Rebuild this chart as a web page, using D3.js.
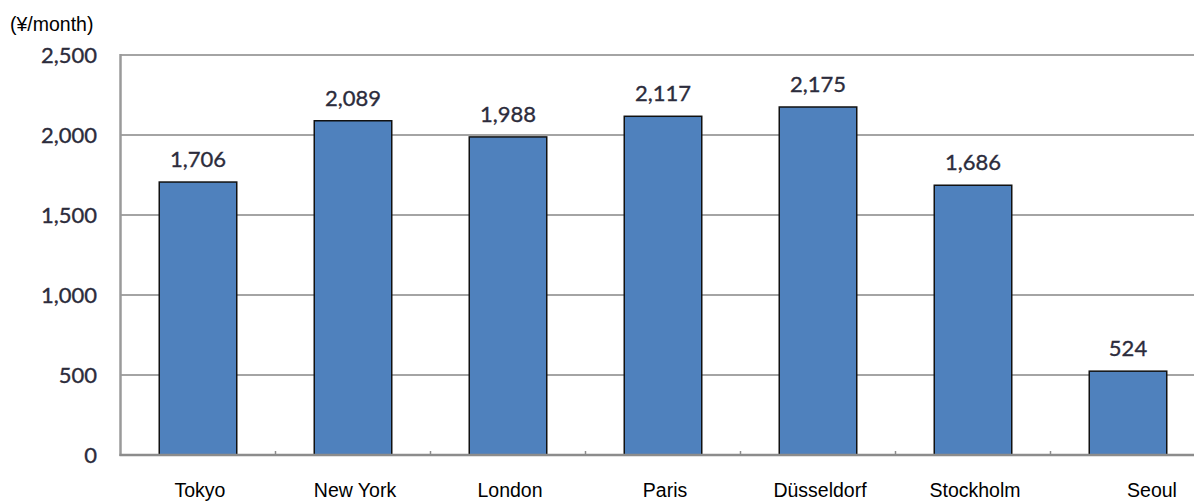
<!DOCTYPE html>
<html><head><meta charset="utf-8">
<script src="https://cdn.jsdelivr.net/npm/d3@7"></script>
<style>html,body{margin:0;padding:0;background:#fff;}svg{display:block;}</style>
</head><body>
<svg id="chart" width="1194" height="501"></svg>
<script>
const categories = ["Tokyo","New York","London","Paris","Düsseldorf","Stockholm","Seoul"];
const values = [1706, 2089, 1988, 2117, 2175, 1686, 524];
const yTicks = [0, 500, 1000, 1500, 2000, 2500];
const unitLabel = "(¥/month)";

(function () {
const svg = d3.select("#chart");
const pLeft = 120.5, pRight = 1205.5, pTop = 55, pBottom = 455;

const x = d3.scaleBand().domain(categories).range([pLeft, pRight]).paddingInner(0.5).paddingOuter(0.25);
const y = d3.scaleLinear().domain([0, 2500]).range([pBottom, pTop]);
const fmt = d3.format(",");

// gridlines
svg.append("g").selectAll("line").data(yTicks.filter(d => d > 0)).join("line")
  .attr("x1", pLeft).attr("x2", pRight)
  .attr("y1", d => y(d)).attr("y2", d => y(d))
  .attr("stroke", "#a4a4a4").attr("stroke-width", 2);

// left frame
svg.append("line").attr("x1", pLeft).attr("x2", pLeft).attr("y1", pTop - 1).attr("y2", pBottom + 1)
  .attr("stroke", "#9a9a9a").attr("stroke-width", 2.5);

// bars
svg.append("g").selectAll("rect").data(values).join("rect")
  .attr("x", (d, i) => x(categories[i]))
  .attr("width", x.bandwidth())
  .attr("y", d => y(d))
  .attr("height", d => y(0) - y(d))
  .attr("fill", "#4f81bd").attr("stroke", "#111").attr("stroke-width", 1.5);

// bottom axis
svg.append("line").attr("x1", pLeft - 1).attr("x2", pRight).attr("y1", pBottom).attr("y2", pBottom)
  .attr("stroke", "#8c8c8c").attr("stroke-width", 2.5);

// category boundary ticks
const step = x.step();
svg.append("g").selectAll("line").data(d3.range(1, categories.length)).join("line")
  .attr("x1", k => pLeft + k * step).attr("x2", k => pLeft + k * step)
  .attr("y1", pBottom).attr("y2", pBottom - 4)
  .attr("stroke", "#8c8c8c").attr("stroke-width", 1.5);

// value labels
svg.append("g").selectAll("text").data(values).join("text")
  .attr("x", (d, i) => x(categories[i]) + x.bandwidth() / 2)
  .attr("y", d => y(d) - 15)
  .attr("text-anchor", "middle")
  .attr("font-family", "Lato, 'Open Sans', sans-serif").attr("font-size", 22)
  .attr("fill", "#2c2c3c").attr("stroke", "#2c2c3c").attr("stroke-width", 0.35)
  .text(d => fmt(d));

// y tick labels
svg.append("g").selectAll("text").data(yTicks).join("text")
  .attr("x", 97).attr("y", d => y(d)).attr("dy", "0.36em")
  .attr("text-anchor", "end")
  .attr("font-family", "Lato, 'Open Sans', sans-serif").attr("font-size", 22)
  .attr("fill", "#2c2c3c").attr("stroke", "#2c2c3c").attr("stroke-width", 0.35)
  .text(d => fmt(d));

// x labels
svg.append("g").selectAll("text").data(categories).join("text")
  .attr("x", (d, i) => x(d) + x.bandwidth() / 2 + (i === categories.length - 1 ? 24 : 2))
  .attr("y", 497)
  .attr("text-anchor", "middle")
  .attr("font-family", "'Liberation Sans', Arial, sans-serif").attr("font-size", 19.5)
  .attr("fill", "#000")
  .text(d => d);

// unit label
svg.append("text").attr("x", 10).attr("y", 31)
  .attr("font-family", "'Liberation Sans', Arial, sans-serif").attr("font-size", 19.5)
  .attr("fill", "#000").text(unitLabel);
})();
</script>
</body></html>
